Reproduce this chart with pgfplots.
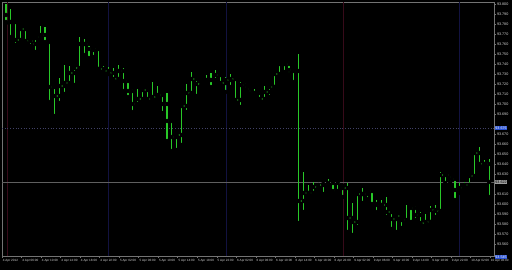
\documentclass[border=0pt]{standalone}
\usepackage{fontspec}
\setmainfont{Liberation Sans}
\usepackage{pgfplots}
\usepackage{pgfplotstable}
\pgfplotsset{compat=1.18}
\definecolor{barcol}{RGB}{40,200,40}
\definecolor{framecol}{RGB}{115,115,115}
\definecolor{sepblue}{RGB}{18,18,64}
\definecolor{sepred}{RGB}{55,10,25}
\definecolor{lblcol}{RGB}{215,215,215}
\definecolor{boxblue}{RGB}{40,80,210}
\definecolor{pricegrey}{RGB}{95,95,95}

\pgfplotstableread{
i o h l c
0 93.789 93.800 93.781 93.782
1 93.782 93.795 93.767 93.782
2 93.782 93.782 93.759 93.764
3 93.764 93.777 93.761 93.775
4 93.775 93.776 93.762 93.763
5 93.763 93.765 93.758 93.763
6 93.760 93.768 93.752 93.766
7 93.767 93.778 93.765 93.769
8 93.769 93.777 93.761 93.762
9 93.762 93.762 93.702 93.717
10 93.717 93.717 93.688 93.708
11 93.708 93.726 93.701 93.718
12 93.718 93.739 93.710 93.721
13 93.721 93.738 93.719 93.731
14 93.731 93.737 93.719 93.736
15 93.736 93.767 93.734 93.760
16 93.760 93.765 93.749 93.760
17 93.760 93.761 93.746 93.755
18 93.754 93.756 93.747 93.755
19 93.755 93.756 93.735 93.735
20 93.735 93.738 93.731 93.733
21 93.733 93.737 93.730 93.731
22 93.731 93.736 93.724 93.725
23 93.725 93.739 93.722 93.733
24 93.733 93.736 93.713 93.723
25 93.723 93.724 93.707 93.713
26 93.713 93.715 93.692 93.700
27 93.700 93.715 93.699 93.705
28 93.705 93.715 93.702 93.714
29 93.714 93.715 93.702 93.705
30 93.705 93.722 93.705 93.707
31 93.707 93.718 93.704 93.709
32 93.709 93.711 93.691 93.700
33 93.700 93.711 93.663 93.683
34 93.683 93.684 93.653 93.667
35 93.667 93.670 93.654 93.669
36 93.669 93.699 93.659 93.698
37 93.698 93.720 93.692 93.711
38 93.711 93.732 93.710 93.725
39 93.725 93.727 93.708 93.720
40 93.720 93.726 93.718 93.724
41 93.724 93.729 93.721 93.724
42 93.724 93.731 93.717 93.724
43 93.724 93.734 93.722 93.729
44 93.729 93.731 93.719 93.721
45 93.721 93.727 93.712 93.724
46 93.724 93.730 93.717 93.725
47 93.725 93.725 93.701 93.704
48 93.704 93.722 93.697 93.719
49 93.719 93.721 93.712 93.715
50 93.715 93.715 93.710 93.711
51 93.711 93.715 93.710 93.711
52 93.711 93.712 93.701 93.705
53 93.705 93.718 93.703 93.712
54 93.712 93.718 93.707 93.717
55 93.717 93.731 93.717 93.730
56 93.730 93.742 93.726 93.740
57 93.740 93.741 93.732 93.740
58 93.740 93.741 93.730 93.734
59 93.734 93.735 93.722 93.733
60 93.733 93.750 93.581 93.603
61 93.603 93.632 93.592 93.611
62 93.611 93.619 93.607 93.611
63 93.611 93.622 93.611 93.617
64 93.617 93.621 93.616 93.619
65 93.619 93.622 93.610 93.620
66 93.620 93.625 93.617 93.621
67 93.621 93.622 93.611 93.613
68 93.613 93.622 93.612 93.621
69 93.618 93.620 93.607 93.616
70 93.616 93.621 93.572 93.586
71 93.586 93.601 93.569 93.582
72 93.582 93.611 93.577 93.610
73 93.610 93.616 93.601 93.610
74 93.610 93.614 93.605 93.613
75 93.613 93.614 93.599 93.600
76 93.600 93.604 93.592 93.599
77 93.599 93.604 93.597 93.599
78 93.599 93.607 93.587 93.592
79 93.592 93.593 93.575 93.585
80 93.585 93.590 93.572 93.588
81 93.588 93.590 93.576 93.584
82 93.584 93.599 93.581 93.582
83 93.582 93.597 93.582 93.596
84 93.596 93.598 93.584 93.589
85 93.589 93.592 93.577 93.581
86 93.581 93.590 93.579 93.582
87 93.582 93.598 93.582 93.594
88 93.594 93.599 93.587 93.593
89 93.593 93.632 93.592 93.629
90 93.629 93.630 93.621 93.629
91 93.629 93.629 93.621 93.625
92 93.625 93.626 93.604 93.614
93 93.614 93.621 93.611 93.616
94 93.616 93.622 93.614 93.619
95 93.619 93.630 93.619 93.628
96 93.628 93.653 93.626 93.651
97 93.651 93.657 93.639 93.640
98 93.640 93.644 93.636 93.640
99 93.640 93.645 93.607 93.622
}\ohlc

\begin{document}
\begin{tikzpicture}
\useasboundingbox (0,0) rectangle (512pt,270pt);
\fill[black] (0,0) rectangle (512pt,270pt);
\begin{axis}[
  at={(2pt,14pt)}, anchor=south west,
  scale only axis, width=492pt, height=254pt,
  xmin=-0.82, xmax=100.0,
  ymin=93.548, ymax=93.802,
  clip=false,
  axis line style={framecol, line width=0.8pt},
  tick style={framecol, line width=0.6pt},
  tick align=outside,
  major tick length=2pt,
  ytick pos=right,
  xtick pos=bottom,
  ytick={93.560,93.570,93.580,93.590,93.600,93.610,93.630,93.640,93.650,93.660,93.670,93.690,93.700,93.710,93.720,93.730,93.740,93.750,93.760,93.770,93.780,93.790,93.800},
  yticklabel style={font=\fontsize{3.7}{4.4}\selectfont, text=lblcol, anchor=west, inner sep=0.5pt, xshift=0.3pt},
  y tick label style={/pgf/number format/.cd, fixed, fixed zerofill, precision=3, assume math mode=true},
  xtick={-0.8,3.2,7.2,11.2,15.2,19.2,23.2,27.2,31.2,35.2,39.2,43.2,47.2,51.2,55.2,59.2,63.2,67.2,71.2,75.2,79.2,83.2,87.2,91.2,95.2,99.2},
  xticklabels={4 Apr 2012,4 Apr 06:00,4 Apr 10:00,4 Apr 14:00,4 Apr 18:00,4 Apr 22:00,5 Apr 02:00,5 Apr 06:00,5 Apr 10:00,5 Apr 14:00,5 Apr 18:00,5 Apr 22:00,6 Apr 02:00,6 Apr 06:00,6 Apr 10:00,6 Apr 14:00,6 Apr 18:00,6 Apr 22:00,9 Apr 02:00,9 Apr 06:00,9 Apr 10:00,9 Apr 14:00,9 Apr 18:00,9 Apr 22:00,10 Apr 02:00,10 Apr 06:00},
  xticklabel style={font=\fontsize{3.1}{3.7}\selectfont, text=lblcol, anchor=north west, inner sep=0pt, xshift=0.6pt, yshift=-1.2pt},
]
% period separators
\addplot[sepred, line width=0.7pt, forget plot] coordinates {(0.2,93.548) (0.2,93.802)};
\addplot[sepred, line width=0.7pt, forget plot] coordinates {(69.1,93.548) (69.1,93.802)};
\addplot[sepblue, line width=0.7pt, forget plot] coordinates {(20.9,93.548) (20.9,93.802)};
\addplot[sepblue, line width=0.7pt, forget plot] coordinates {(45.1,93.548) (45.1,93.802)};
\addplot[sepblue, line width=0.7pt, forget plot] coordinates {(92.8,93.548) (92.8,93.802)};
% horizontal level lines
\addplot[sepblue!80!white, line width=0.7pt, dotted, forget plot] coordinates {(-0.82,93.676) (100,93.676)};
\addplot[pricegrey, line width=0.6pt, forget plot] coordinates {(-0.82,93.622) (100,93.622)};
% OHLC bars: high-low
\addplot[only marks, mark=none, forget plot,
  error bars/.cd, y dir=plus, y explicit, error mark=none,
  error bar style={draw=barcol, line width=1.15pt}]
  table[x=i, y=l, y error expr=\thisrow{h}-\thisrow{l}] {\ohlc};
% open ticks
\addplot[only marks, mark=none, forget plot,
  error bars/.cd, x dir=minus, x fixed=0.45, error mark=none,
  error bar style={draw=barcol, line width=1.1pt}]
  table[x=i, y=o] {\ohlc};
% close ticks
\addplot[only marks, mark=none, forget plot,
  error bars/.cd, x dir=plus, x fixed=0.45, error mark=none,
  error bar style={draw=barcol, line width=1.1pt}]
  table[x=i, y=c] {\ohlc};
% price labels on the right scale
\node[fill=boxblue, text=white, font=\fontsize{3.7}{4.4}\selectfont, inner sep=0.6pt, anchor=west, xshift=0.6pt]
  at (axis cs:100,93.676) {93.676};
\node[fill=pricegrey!60!white, text=black, font=\fontsize{3.7}{4.4}\selectfont, inner sep=0.6pt, anchor=west, xshift=0.6pt]
  at (axis cs:100,93.622) {93.622};
\node[fill=boxblue, text=white, font=\fontsize{3.7}{4.4}\selectfont, inner sep=0.6pt, anchor=north west, xshift=0.6pt, yshift=1pt]
  at (axis cs:100,93.548) {93.545};
\end{axis}
\end{tikzpicture}
\end{document}
